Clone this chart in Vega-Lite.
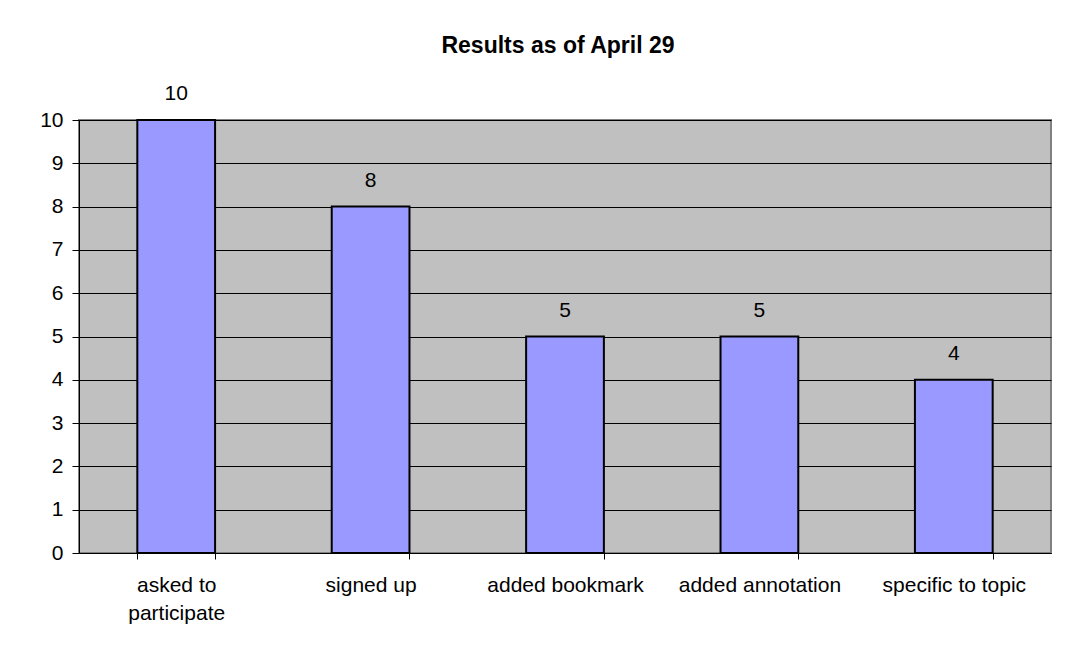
{
  "$schema": "https://vega.github.io/schema/vega-lite/v6.json",
  "width": 972,
  "height": 433,
  "autosize": {"type": "none"},
  "padding": {"left": 79, "top": 120, "right": 18, "bottom": 100},
  "background": "white",
  "title": {
    "text": "Results as of April 29",
    "font": "Liberation Sans",
    "fontSize": 23,
    "fontWeight": "bold",
    "color": "black",
    "anchor": "middle",
    "dx": -7,
    "offset": 25
  },
  "data": {
    "values": [
      {"category": "asked to participate", "count": 10},
      {"category": "signed up", "count": 8},
      {"category": "added bookmark", "count": 5},
      {"category": "added annotation", "count": 5},
      {"category": "specific to topic", "count": 4}
    ]
  },
  "config": {
    "view": {"fill": "#C0C0C0", "stroke": "#808080", "strokeWidth": 2},
    "font": "Liberation Sans"
  },
  "encoding": {
    "x": {
      "field": "category",
      "type": "nominal",
      "sort": null,
      "scale": {"paddingInner": 0.6, "paddingOuter": 0.3},
      "axis": {
        "title": null,
        "labelAngle": 0,
        "labelFont": "Liberation Sans",
        "labelFontSize": 21,
        "labelColor": "black",
        "labelPadding": 15,
        "labelLineHeight": 28,
        "labelExpr": "datum.label == 'asked to participate' ? ['asked to', 'participate'] : datum.label",
        "tickBand": "extent",
        "tickSize": 6,
        "tickColor": "black",
        "domainColor": "black",
        "domainWidth": 1,
        "grid": false
      }
    },
    "y": {
      "field": "count",
      "type": "quantitative",
      "scale": {"domain": [0, 10]},
      "axis": {
        "title": null,
        "values": [0, 1, 2, 3, 4, 5, 6, 7, 8, 9, 10],
        "labelFont": "Liberation Sans",
        "labelFontSize": 21,
        "labelColor": "black",
        "labelPadding": 9,
        "tickSize": 7,
        "tickColor": "black",
        "domainColor": "black",
        "grid": true,
        "gridColor": "black",
        "gridOpacity": 1,
        "gridWidth": 1
      }
    }
  },
  "layer": [
    {
      "mark": {"type": "bar", "fill": "#9999FF", "stroke": "black", "strokeWidth": 2}
    },
    {
      "mark": {"type": "text", "baseline": "alphabetic", "dy": -20, "font": "Liberation Sans", "fontSize": 21, "color": "black"},
      "encoding": {"text": {"field": "count", "type": "quantitative"}}
    }
  ]
}
